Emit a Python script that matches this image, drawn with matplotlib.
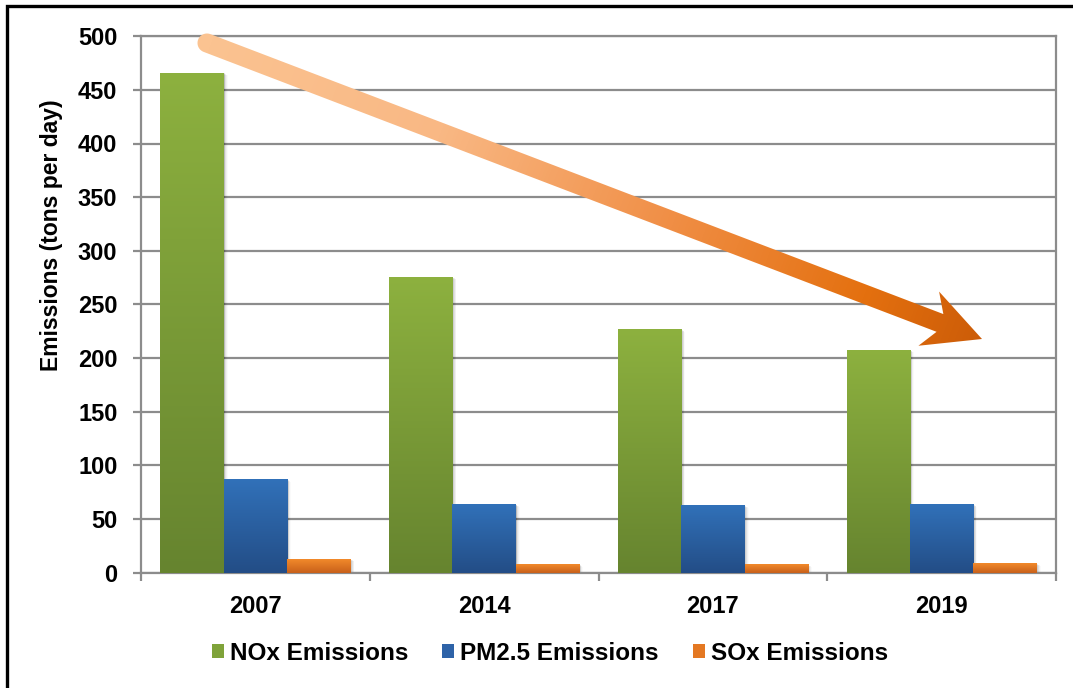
import numpy as np
import matplotlib
matplotlib.use("Agg")
import matplotlib.pyplot as plt
from matplotlib.patches import Polygon, Patch
from matplotlib.colors import LinearSegmentedColormap
from matplotlib.lines import Line2D
import matplotlib.transforms as mtransforms

# ---- data -------------------------------------------------------------
years = ["2007", "2014", "2017", "2019"]
nox_emissions = [466, 276, 227, 208]
pm25_emissions = [87, 64, 63, 64]
sox_emissions = [13, 8, 8, 9]
series_labels = ["NOx Emissions", "PM2.5 Emissions", "SOx Emissions"]
y_ticks = [0, 50, 100, 150, 200, 250, 300, 350, 400, 450, 500]

# ---- styling ----------------------------------------------------------
plt.rcParams["font.family"] = ["Liberation Sans", "DejaVu Sans"]
plt.rcParams["font.weight"] = "bold"
FS_TICK = 17
FS_LABEL = 16
FS_LEGEND = 17.5
GRID = "#8C8C8C"

# (top colour, bottom colour, legend colour) for each series
series_colors = [
    ("#8DB13F", "#66842F", "#7FA33A"),
    ("#3171B9", "#234D86", "#2E63A8"),
    ("#F28A2B", "#C8601A", "#E47822"),
]

W, H = 1073, 688
fig = plt.figure(figsize=(W / 100, H / 100), dpi=100)
fig.patch.set_facecolor("white")

x0_px, x1_px, ybot_px, ytop_px = 141, 1056, 572.7, 36.2
ax = fig.add_axes([x0_px / W, 1 - ybot_px / H,
                   (x1_px - x0_px) / W, (ybot_px - ytop_px) / H])

x = np.arange(len(years))
bar_w = 0.2767
offsets = [-bar_w, 0.0, bar_w]
all_series = [nox_emissions, pm25_emissions, sox_emissions]

grad = np.linspace(0, 1, 256).reshape(-1, 1)
for vals, off, (top_c, bot_c, _) in zip(all_series, offsets, series_colors):
    bars = ax.bar(x + off, vals, bar_w, color="none", edgecolor="none", zorder=3)
    cmap = LinearSegmentedColormap.from_list("bar", [bot_c, top_c])
    for patch in bars.patches:
        bx, by = patch.get_x(), patch.get_y()
        bw, bh = patch.get_width(), patch.get_height()
        # soft drop shadow on the right / bottom
        for k, a in zip(range(1, 6), [0.10, 0.08, 0.06, 0.04, 0.02]):
            off_tr = mtransforms.offset_copy(ax.transData, fig=fig,
                                             x=k * 0.8, y=-k * 0.5, units="dots")
            ax.add_patch(plt.Rectangle((bx, by), bw, bh, transform=off_tr,
                                       facecolor="black", edgecolor="none",
                                       alpha=a, zorder=2.5))
        im = ax.imshow(grad, extent=(bx, bx + bw, by, by + bh), origin="lower",
                       cmap=cmap, aspect="auto", interpolation="bicubic", zorder=3)
        im.set_clip_path(patch)

ax.set_xlim(-0.5, len(years) - 0.5)
ax.set_ylim(0, 500)

# axes, grid and ticks
ax.set_yticks(y_ticks)
ax.set_yticklabels([str(v) for v in y_ticks], fontsize=FS_TICK, fontweight="bold")
ax.yaxis.grid(True, color=GRID, linewidth=1.6, zorder=1)
ax.set_axisbelow(True)
for s in ax.spines.values():
    s.set_color(GRID)
    s.set_linewidth(1.6)
ax.tick_params(axis="y", direction="out", length=6, width=1.6, color=GRID, pad=11)

ax.set_xticks(x)
ax.set_xticklabels(years, fontsize=FS_TICK, fontweight="bold")
ax.set_xticks(np.arange(-0.5, len(years)), minor=True)
ax.tick_params(axis="x", which="major", length=0, pad=16)
ax.tick_params(axis="x", which="minor", direction="out", length=6, width=1.6, color=GRID)

fig.text(52 / W, 1 - 235 / H, "Emissions (tons per day)", rotation=90,
         ha="center", va="center", fontsize=FS_LABEL + 0.5, fontweight="bold")

# legend
handles = [Patch(facecolor=c[2], edgecolor="none") for c in series_colors]
fig.legend(handles, series_labels, loc="center", bbox_to_anchor=(550 / W, 1 - 653 / H),
           ncol=3, frameon=False, prop={"size": FS_LEGEND, "weight": "bold"},
           handlelength=0.5, handleheight=0.5, handletextpad=0.25,
           columnspacing=1.4)

# ---- downward trend arrow (pixel overlay) ----------------------------
ov = fig.add_axes([0, 0, 1, 1], zorder=10)
ov.set_xlim(0, W)
ov.set_ylim(H, 0)
ov.axis("off")
ov.patch.set_alpha(0)

tail = np.array([207.0, 43.0])
tip = np.array([982.0, 339.0])
d = tip - tail
L = np.hypot(*d)
u = d / L
n = np.array([-u[1], u[0]])
hw = 9.5        # shaft half width
head_len = 57   # tip to barbs
notch = 45      # tip to shaft join
barb = 29       # barb half width

poly = [
    *[tail + hw * (np.cos(a) * u + np.sin(a) * n)
      for a in np.linspace(-np.pi / 2, -3 * np.pi / 2, 25)],
    tip - notch * u + hw * n,
    tip - head_len * u + barb * n,
    tip,
    tip - head_len * u - barb * n,
    tip - notch * u - hw * n,
]
arrow_patch = Polygon(np.array(poly), closed=True, facecolor="none", edgecolor="none")
ov.add_patch(arrow_patch)

yy, xx = np.mgrid[0:H, 0:W]
t = np.clip(((xx - tail[0]) * u[0] + (yy - tail[1]) * u[1]) / L, 0, 1)
arrow_cmap = LinearSegmentedColormap.from_list(
    "arrow", [(0.0, "#FBC391"), (0.3, "#F9B884"), (0.6, "#F08E45"),
              (0.85, "#E4700F"), (1.0, "#CC5C08")])
aim = ov.imshow(t, extent=(0, W, H, 0), origin="upper", cmap=arrow_cmap,
                vmin=0, vmax=1, interpolation="bilinear", aspect="auto")
aim.set_clip_path(arrow_patch)
ov.set_xlim(0, W)
ov.set_ylim(H, 0)

# outer frame
ov.add_line(Line2D([7, 7, W], [H, 6, 6], color="black", linewidth=2.4,
                   solid_joinstyle="miter"))

fig.savefig("out.png", dpi=100)
